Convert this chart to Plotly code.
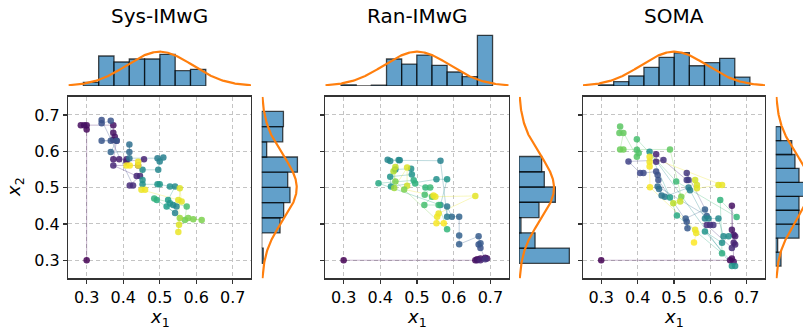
import numpy as np
import plotly.graph_objects as go
from plotly.colors import sample_colorscale

# ---------------- data ----------------
TITLES = ["Sys-IMwG", "Ran-IMwG", "SOMA"]
TICKS = [0.3, 0.4, 0.5, 0.6, 0.7]

SYS_X = [0.300, 0.300, 0.300, 0.284, 0.293, 0.373, 0.373, 0.377, 0.373, 0.382, 0.373, 0.389, 0.409, 0.409,
         0.457, 0.441, 0.373, 0.437, 0.446, 0.418, 0.427, 0.341, 0.341, 0.366, 0.366, 0.341, 0.382, 0.366,
         0.417, 0.417, 0.417, 0.494, 0.510, 0.500, 0.496, 0.453, 0.453, 0.453, 0.494, 0.500, 0.528, 0.542,
         0.523, 0.528, 0.537, 0.546, 0.519, 0.542, 0.492, 0.485, 0.574, 0.569, 0.578, 0.592, 0.615, 0.555,
         0.553, 0.551, 0.555, 0.560, 0.551, 0.450, 0.460, 0.441, 0.441, 0.409, 0.418]
SYS_Y = [0.300, 0.660, 0.672, 0.672, 0.672, 0.672, 0.651, 0.640, 0.631, 0.629, 0.578, 0.578, 0.578, 0.572,
         0.578, 0.561, 0.561, 0.532, 0.532, 0.506, 0.506, 0.686, 0.677, 0.684, 0.629, 0.629, 0.629, 0.598,
         0.598, 0.619, 0.581, 0.581, 0.583, 0.572, 0.549, 0.549, 0.521, 0.509, 0.509, 0.509, 0.503, 0.503,
         0.466, 0.457, 0.452, 0.448, 0.448, 0.430, 0.466, 0.470, 0.448, 0.411, 0.416, 0.413, 0.411, 0.416,
         0.398, 0.378, 0.498, 0.462, 0.466, 0.494, 0.494, 0.571, 0.561, 0.561, 0.561]
SYS_C = [0.00, 0.02, 0.03, 0.03, 0.04, 0.05, 0.05, 0.06, 0.06, 0.07, 0.08, 0.08, 0.09, 0.09,
         0.10, 0.10, 0.11, 0.11, 0.12, 0.12, 0.13, 0.25, 0.25, 0.26, 0.27, 0.27, 0.28, 0.32,
         0.34, 0.36, 0.38, 0.42, 0.43, 0.45, 0.46, 0.48, 0.50, 0.50, 0.52, 0.53, 0.50, 0.48,
         0.55, 0.52, 0.48, 0.46, 0.55, 0.45, 0.62, 0.65, 0.70, 0.78, 0.80, 0.80, 0.80, 0.85,
         0.95, 0.97, 0.95, 0.96, 0.96, 0.97, 0.98, 0.98, 0.99, 0.99, 1.00]

RAN_X = [0.300, 0.659, 0.664, 0.673, 0.686, 0.691, 0.664, 0.673, 0.686, 0.673, 0.668, 0.673, 0.668, 0.615,
         0.615, 0.615, 0.595, 0.582, 0.582, 0.564, 0.453, 0.420, 0.427, 0.450, 0.441, 0.484, 0.486, 0.427,
         0.429, 0.553, 0.582, 0.564, 0.395, 0.491, 0.495, 0.523, 0.536, 0.521, 0.541, 0.520, 0.559, 0.582,
         0.441, 0.436, 0.441, 0.438, 0.473, 0.473, 0.465, 0.545, 0.550, 0.659, 0.559, 0.555, 0.553, 0.573]
RAN_Y = [0.300, 0.300, 0.303, 0.305, 0.307, 0.305, 0.300, 0.300, 0.303, 0.334, 0.343, 0.347, 0.366, 0.344,
         0.368, 0.420, 0.420, 0.448, 0.420, 0.574, 0.575, 0.577, 0.573, 0.576, 0.550, 0.552, 0.536, 0.530,
         0.503, 0.523, 0.523, 0.452, 0.512, 0.520, 0.511, 0.500, 0.500, 0.480, 0.475, 0.452, 0.452, 0.385,
         0.517, 0.545, 0.557, 0.499, 0.555, 0.505, 0.495, 0.478, 0.475, 0.477, 0.429, 0.420, 0.402, 0.402]
RAN_C = [0.00, 0.02, 0.03, 0.04, 0.05, 0.06, 0.07, 0.10, 0.15, 0.25, 0.27, 0.28, 0.29, 0.30,
         0.31, 0.32, 0.34, 0.40, 0.42, 0.44, 0.45, 0.46, 0.47, 0.48, 0.49, 0.50, 0.51, 0.52,
         0.53, 0.50, 0.52, 0.50, 0.60, 0.62, 0.64, 0.66, 0.68, 0.70, 0.72, 0.70, 0.68, 0.66,
         0.80, 0.88, 0.92, 0.85, 0.95, 0.93, 0.80, 0.98, 0.97, 0.96, 0.97, 0.98, 0.99, 1.00]

SOMA_X = [0.300, 0.654, 0.659, 0.664, 0.659, 0.659, 0.664, 0.668, 0.664, 0.668, 0.659, 0.590, 0.599, 0.608,
          0.535, 0.540, 0.535, 0.451, 0.451, 0.471, 0.375, 0.407, 0.416, 0.451, 0.455, 0.457, 0.535, 0.537,
          0.532, 0.585, 0.590, 0.455, 0.459, 0.466, 0.475, 0.540, 0.544, 0.585, 0.595, 0.622, 0.636, 0.650,
          0.632, 0.585, 0.668, 0.659, 0.433, 0.489, 0.508, 0.632, 0.627, 0.672, 0.506, 0.398, 0.398, 0.403,
          0.398, 0.352, 0.350, 0.361, 0.352, 0.361, 0.489, 0.520, 0.498, 0.517, 0.558, 0.563, 0.563, 0.622,
          0.632, 0.433, 0.433, 0.433, 0.434, 0.558, 0.561, 0.555]
SOMA_Y = [0.300, 0.300, 0.305, 0.296, 0.450, 0.384, 0.370, 0.366, 0.348, 0.343, 0.334, 0.397, 0.397, 0.397,
          0.540, 0.521, 0.521, 0.592, 0.571, 0.576, 0.572, 0.540, 0.540, 0.544, 0.535, 0.521, 0.406, 0.388,
          0.415, 0.440, 0.422, 0.503, 0.496, 0.478, 0.475, 0.500, 0.493, 0.415, 0.415, 0.415, 0.366, 0.366,
          0.348, 0.379, 0.284, 0.284, 0.599, 0.473, 0.423, 0.319, 0.466, 0.419, 0.517, 0.633, 0.604, 0.595,
          0.585, 0.668, 0.650, 0.650, 0.605, 0.605, 0.605, 0.475, 0.457, 0.462, 0.521, 0.507, 0.498, 0.507,
          0.507, 0.585, 0.571, 0.558, 0.501, 0.384, 0.375, 0.349]
SOMA_C = [0.00, 0.02, 0.03, 0.04, 0.05, 0.06, 0.07, 0.08, 0.09, 0.10, 0.12, 0.13, 0.14, 0.15,
          0.16, 0.17, 0.18, 0.10, 0.12, 0.14, 0.20, 0.22, 0.23, 0.24, 0.25, 0.26, 0.27, 0.28,
          0.29, 0.30, 0.31, 0.35, 0.36, 0.38, 0.40, 0.42, 0.43, 0.45, 0.46, 0.47, 0.48, 0.49,
          0.50, 0.52, 0.50, 0.52, 0.50, 0.55, 0.60, 0.62, 0.65, 0.66, 0.68, 0.70, 0.71, 0.72,
          0.73, 0.74, 0.75, 0.76, 0.77, 0.78, 0.75, 0.80, 0.90, 0.92, 0.93, 0.94, 0.95, 0.96,
          0.97, 0.98, 0.98, 0.99, 0.99, 0.97, 0.98, 1.00]

# marginal histograms (density), bins given by first edge and bin width
SYS_TOP_EDGE0, SYS_TOP_BIN = 0.291, 0.0419
SYS_TOP_DENS = [0.48, 3.88, 3.10, 3.49, 3.49, 4.10, 1.98, 2.16]
RAN_TOP_EDGE0, RAN_TOP_BIN = 0.293, 0.0413
RAN_TOP_DENS = [0.15, 0.0, 0.10, 3.49, 2.84, 4.00, 2.67, 1.81, 1.20, 6.55]
SOMA_TOP_EDGE0, SOMA_TOP_BIN = 0.2926, 0.0416
SOMA_TOP_DENS = [0.15, 0.56, 1.29, 2.42, 3.71, 4.30, 2.62, 3.01, 3.58, 1.16]

SYS_RIGHT_EDGE0, SYS_RIGHT_BIN = 0.2916, 0.0418
SYS_RIGHT_DENS = [0.19, 0.0, 2.32, 2.78, 3.58, 3.29, 4.52, 0.63, 2.66, 2.75]
RAN_RIGHT_EDGE0, RAN_RIGHT_BIN = 0.2916, 0.0420
RAN_RIGHT_DENS = [6.37, 2.03, 0.25, 2.53, 4.60, 3.20, 2.87]
SOMA_RIGHT_EDGE0, SOMA_RIGHT_BIN = 0.284, 0.0384
SOMA_RIGHT_DENS = [0.67, 0.25, 2.95, 2.95, 2.95, 4.05, 2.95, 2.44, 2.03, 0.63]

# prior curve N(MU, SIGMA)
PRIOR_MU, PRIOR_SIGMA = 0.5, 0.09

# ---------------- layout helpers ----------------
W, H = 803, 329
FONT = "DejaVu Sans"
MAIN_X = [(68.4, 251.0), (325.3, 508.7), (583.0, 765.0)]
MAIN_Y = (96.8, 278.4)
TOP_Y = (30.3, 86.0)
RIGHT_X = [(261.7, 318.6), (519.0, 575.9), (775.7, 803.0)]
RIGHT_RANGE = [7.2, 7.2, (803.0 - 775.7) / 7.9]
TOP_RANGE = 7.2


def dx(a, b):
    return [a / W, b / W]


def dy(a, b):
    return [1 - b / H, 1 - a / H]


panels = [
    (SYS_X, SYS_Y, SYS_C, SYS_TOP_EDGE0, SYS_TOP_BIN, SYS_TOP_DENS, SYS_RIGHT_EDGE0, SYS_RIGHT_BIN, SYS_RIGHT_DENS),
    (RAN_X, RAN_Y, RAN_C, RAN_TOP_EDGE0, RAN_TOP_BIN, RAN_TOP_DENS, RAN_RIGHT_EDGE0, RAN_RIGHT_BIN, RAN_RIGHT_DENS),
    (SOMA_X, SOMA_Y, SOMA_C, SOMA_TOP_EDGE0, SOMA_TOP_BIN, SOMA_TOP_DENS, SOMA_RIGHT_EDGE0, SOMA_RIGHT_BIN, SOMA_RIGHT_DENS),
]

fig = go.Figure()
grid_x = np.linspace(0.25, 0.75, 300)
prior = np.exp(-0.5 * ((grid_x - PRIOR_MU) / PRIOR_SIGMA) ** 2) / (PRIOR_SIGMA * np.sqrt(2 * np.pi))

BAR_FILL = "rgba(31,119,180,0.7)"
BAR_EDGE = "rgba(0,0,0,0.7)"
ORANGE = "#ff7f0e"

layout = {}
annotations = []
for i, (xs, ys, cs, te0, tb, td, re0, rb, rd) in enumerate(panels):
    k = i + 1
    kt = i + 4
    kr = i + 7
    xa = f"x{k}" if k > 1 else "x"
    ya = f"y{k}" if k > 1 else "y"
    # trajectory segments
    seg_cols = sample_colorscale("Viridis", cs)
    for j in range(1, len(xs)):
        fig.add_trace(go.Scatter(x=[xs[j - 1], xs[j]], y=[ys[j - 1], ys[j]], mode="lines",
                                 line=dict(color=seg_cols[j], width=1), opacity=0.3,
                                 hoverinfo="skip", showlegend=False, xaxis=xa, yaxis=ya))
    fig.add_trace(go.Scatter(x=xs, y=ys, mode="markers",
                             marker=dict(size=6.5, color=cs, colorscale="Viridis", cmin=0, cmax=1,
                                         opacity=0.85, line=dict(width=0)),
                             showlegend=False, xaxis=xa, yaxis=ya))
    # top histogram
    tcent = [te0 + tb * (j + 0.5) for j in range(len(td))]
    fig.add_trace(go.Bar(x=tcent, y=td, width=tb, marker=dict(color=BAR_FILL, line=dict(color=BAR_EDGE, width=1.3)),
                         showlegend=False, xaxis=f"x{kt}", yaxis=f"y{kt}"))
    fig.add_trace(go.Scatter(x=grid_x, y=prior, mode="lines", line=dict(color=ORANGE, width=2.2),
                             showlegend=False, xaxis=f"x{kt}", yaxis=f"y{kt}"))
    # right histogram
    rcent = [re0 + rb * (j + 0.5) for j in range(len(rd))]
    fig.add_trace(go.Bar(y=rcent, x=rd, width=rb, orientation="h",
                         marker=dict(color=BAR_FILL, line=dict(color=BAR_EDGE, width=1.3)),
                         showlegend=False, xaxis=f"x{kr}", yaxis=f"y{kr}"))
    fig.add_trace(go.Scatter(y=grid_x, x=prior, mode="lines", line=dict(color=ORANGE, width=2.2),
                             showlegend=False, xaxis=f"x{kr}", yaxis=f"y{kr}"))

    axcommon = dict(range=[0.25, 0.75], tickvals=TICKS, tickformat=".1f", showline=True, mirror=True,
                    linecolor="#333333", linewidth=1.4, ticks="outside", ticklen=4, tickwidth=1.2,
                    tickcolor="#333333", showgrid=True, gridcolor="#c4c4c4", gridwidth=1,
                    griddash="4px,3px", zeroline=False, tickfont=dict(family=FONT, size=16, color="black"))
    layout[f"xaxis{k}"] = dict(axcommon, domain=dx(*MAIN_X[i]), anchor=ya)
    layout[f"yaxis{k}"] = dict(axcommon, domain=dy(*MAIN_Y), anchor=xa, showticklabels=(i == 0))
    hidden = dict(visible=False, showgrid=False, zeroline=False, fixedrange=True)
    layout[f"xaxis{kt}"] = dict(hidden, domain=dx(*MAIN_X[i]), range=[0.25, 0.75], anchor=f"y{kt}")
    layout[f"yaxis{kt}"] = dict(hidden, domain=dy(*TOP_Y), range=[0, TOP_RANGE], anchor=f"x{kt}")
    layout[f"xaxis{kr}"] = dict(hidden, domain=dx(*RIGHT_X[i]), range=[0, RIGHT_RANGE[i]], anchor=f"y{kr}")
    layout[f"yaxis{kr}"] = dict(hidden, domain=dy(*MAIN_Y), range=[0.25, 0.75], anchor=f"x{kr}")

    cx = (MAIN_X[i][0] + MAIN_X[i][1]) / 2 / W
    annotations.append(dict(text=TITLES[i], x=cx, y=1 - 16 / H, xref="paper", yref="paper",
                            showarrow=False, xanchor="center", yanchor="middle",
                            font=dict(family=FONT, size=20, color="black")))
    annotations.append(dict(text="<i>x</i><sub>1</sub>", x=cx, y=1 - 318 / H, xref="paper", yref="paper",
                            showarrow=False, xanchor="center", yanchor="middle",
                            font=dict(family=FONT, size=18, color="black")))

annotations.append(dict(text="<i>x</i><sub>2</sub>", x=15 / W, y=1 - 187 / H, xref="paper", yref="paper",
                        showarrow=False, xanchor="center", yanchor="middle", textangle=-90,
                        font=dict(family=FONT, size=18, color="black")))

fig.update_layout(width=W, height=H, margin=dict(l=0, r=0, t=0, b=0), paper_bgcolor="white",
                  plot_bgcolor="rgba(0,0,0,0)", bargap=0, annotations=annotations, **layout)
fig.write_html("out.html", config={"displayModeBar": False, "staticPlot": True},
               post_script="document.body.style.margin='0px';document.body.style.overflow='hidden';")
